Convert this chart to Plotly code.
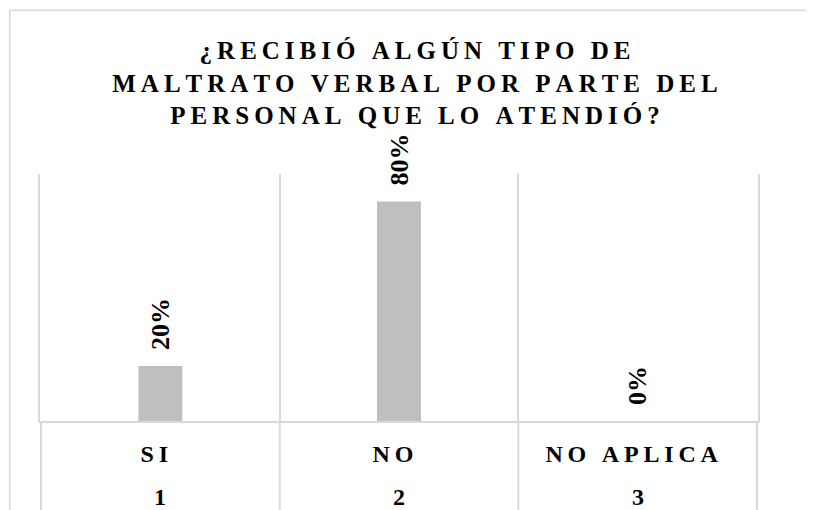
import plotly.graph_objects as go

TITLE_LINES = ["¿RECIBIÓ ALGÚN TIPO DE",
               "MALTRATO VERBAL POR PARTE DEL",
               "PERSONAL QUE LO ATENDIÓ?"]
CATEGORIES = ["SI", "NO", "NO APLICA"]
CODES = ["1", "2", "3"]
VALUES = [0.20, 0.80, 0.00]

GRID = "#d9d9d9"
FONT = "Liberation Serif"
BOLD = {"family": FONT, "size": 24, "color": "#000000", "weight": "bold"}


def spaced(text, gap="\u2005"):
    # Excel-style expanded letter spacing
    return gap.join(text)


title = "<br>".join(spaced(t, "\u2009") for t in TITLE_LINES)
cats = [spaced(c, "\u2009") + "\u2002" for c in CATEGORIES]

fig = go.Figure()
fig.add_trace(go.Bar(x=cats,
                     y=VALUES,
                     width=0.184,
                     marker={"color": "#bfbfbf", "line": {"width": 0}},
                     text=["\u2002" + f"{v:.0%}" for v in VALUES],
                     textposition="outside",
                     textangle=-90,
                     constraintext="none",
                     cliponaxis=False,
                     textfont=dict(BOLD, size=26),
                     hoverinfo="skip"))

# page body adds 8px, so margins are shifted to compensate
fig.update_layout(width=814, height=510,
                  margin={"l": 32, "r": 64, "t": 166, "b": 96.5},
                  paper_bgcolor="white", plot_bgcolor="white",
                  showlegend=False,
                  title={"text": title, "x": 0.5, "xanchor": "center",
                         "y": 0.90, "yanchor": "top",
                         "font": dict(BOLD, size=25)})

fig.update_xaxes(type="category", tickson="boundaries",
                 showgrid=True, gridcolor=GRID, gridwidth=2,
                 showline=True, linecolor=GRID, linewidth=2,
                 ticks="", ticklabelstandoff=10, tickfont=BOLD)
fig.update_yaxes(range=[0, 0.9], showgrid=False, zeroline=False,
                 showticklabels=False, ticks="",
                 showline=True, mirror=True, linecolor=GRID, linewidth=2)

# second row of category labels (codes)
for cat, code in zip(cats, CODES):
    fig.add_annotation(x=cat, xref="x", y=-0.245, yref="paper",
                       yanchor="top", text=code, showarrow=False, font=BOLD)

# dividers through the label rows
for i in range(len(CATEGORIES) + 1):
    fig.add_shape(type="line", xref="x", yref="paper",
                  x0=i - 0.5, x1=i - 0.5, y0=0, y1=-1,
                  line={"color": GRID, "width": 2})

# outer chart border, partly outside the visible page
fig.add_shape(type="rect", xref="paper", yref="paper",
              x0=-0.042, x1=1.3, y0=-1.0, y1=1.663,
              line={"color": GRID, "width": 1.5}, layer="below")

fig.write_html("out.html")
